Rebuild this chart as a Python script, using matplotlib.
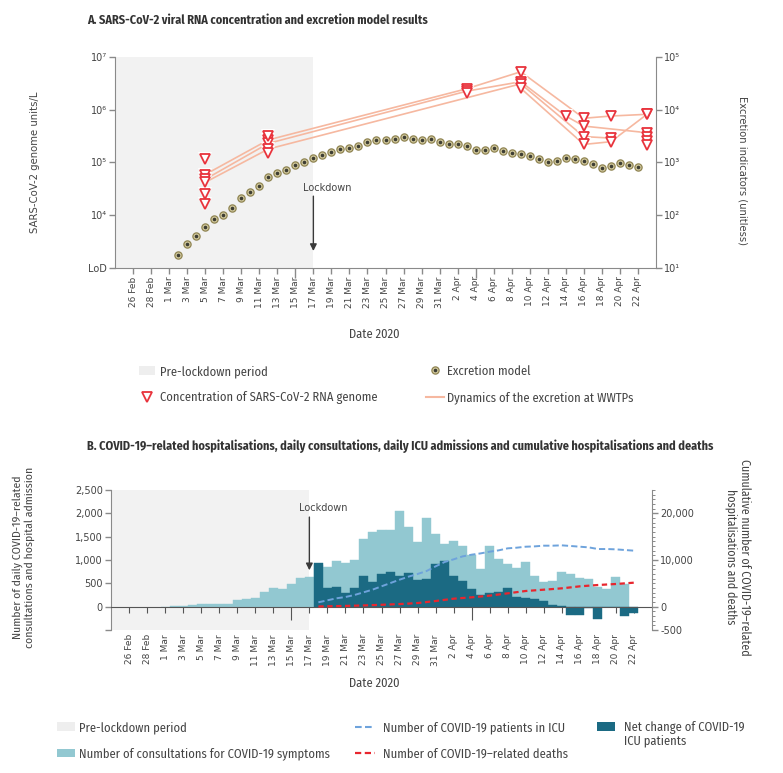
import os
import numpy as np
import pandas as pd
import matplotlib
matplotlib.use("Agg")
import matplotlib.pyplot as plt
import matplotlib.dates as mdates
from matplotlib.patches import Patch
from matplotlib.lines import Line2D
from matplotlib.ticker import FixedLocator, NullLocator, FixedFormatter
from matplotlib.font_manager import FontProperties

NARROW = ['Fira Sans Condensed', 'Liberation Sans', 'DejaVu Sans']
DEJAVU_FILE = os.path.join(matplotlib.get_data_path(), 'fonts', 'ttf', 'DejaVuSans.ttf')


def dv(size):
    if os.path.exists(DEJAVU_FILE):
        return FontProperties(fname=DEJAVU_FILE, size=size)
    return FontProperties(family='DejaVu Sans', size=size)


# ---------------- data ----------------
axis_start, axis_end = '2020-02-24', '2020-04-24'
lockdown_date = '2020-03-17'
tick_dates = pd.date_range('2020-02-26', '2020-04-22', freq='2D')

# Panel A: excretion model (right axis, unitless), 2 Mar - 22 Apr
model_dates = pd.date_range('2020-03-02', '2020-04-22')
excretion_model = [18, 29, 40, 61, 85, 100, 140, 210, 270, 360, 520, 640, 730, 880, 1030,
                   1230, 1390, 1580, 1780, 1880, 2100, 2480, 2700, 2700, 2830, 3000, 2750,
                   2630, 2750, 2480,
                   2280, 2280, 2020, 1730, 1730, 1860, 1680, 1490, 1450, 1350, 1160, 1000,
                   1050, 1200, 1160, 1050, 940, 800, 860, 960, 900, 830]

# Panel A: SARS-CoV-2 RNA concentration at WWTPs (genome units/L)
sample_dates = pd.to_datetime(['2020-03-05', '2020-03-12', '2020-04-03', '2020-04-09',
                               '2020-04-14', '2020-04-16', '2020-04-19', '2020-04-23'])
nan = np.nan
wwtp_1 = [5.9e4, 2.68e5, 2.5e6, 5.25e6, nan, 6.9e5, 7.6e5, 8.2e5]
wwtp_2 = [4.8e4, 2.3e5, 2.25e6, 3.4e6, 7.6e5, 4.9e5, nan, 3.67e5]
wwtp_3 = [4.2e4, 1.8e5, nan, 3.1e6, nan, 3.1e5, 2.9e5, nan]
wwtp_4 = [nan, nan, nan, 2.55e6, nan, 2.2e5, 2.48e5, 8.2e5]
other_dates = pd.to_datetime(['2020-03-05', '2020-03-05', '2020-03-05', '2020-03-12',
                              '2020-03-12', '2020-04-03', '2020-04-23', '2020-04-23',
                              '2020-04-23'])
other_conc = [1.15e5, 2.56e4, 1.61e4, 3.2e5, 1.49e5, 2.05e6, 3.0e5, 2.57e5, 2.14e5]

left_ticks_a = [1e3, 1e4, 1e5, 1e6, 1e7]
left_labels_a = ['LoD', '10\u2074', '10\u2075', '10\u2076', '10\u2077']
right_ticks_a = [1e1, 1e2, 1e3, 1e4, 1e5]
right_labels_a = ['10\u00b9', '10\u00b2', '10\u00b3', '10\u2074', '10\u2075']

# Panel B
consult_dates = pd.date_range('2020-03-01', '2020-04-21')
consultations = [2, 5, 15, 29, 50, 52, 55, 57, 136, 164, 193, 307, 407, 372, 493, 615, 636,
                 900, 850, 978, 943, 1007, 1443, 1600, 1635, 1640, 2043, 1707, 1378, 1906, 1564,
                 1335, 1400, 1307, 1100, 800, 1292, 1028, 921, 828, 950, 657, 536, 543, 735,
                 707, 607, 600, 421, 378, 636, 493]
icu_dates = pd.date_range('2020-03-18', '2020-04-22')
icu_net_change = [944, 400, 428, 300, 400, 650, 536, 693, 735, 650, 728, 564, 585, 907,
                  985, 657, 557, 386, 257, 286, 307, 393, 207, 179, 157, 129, 43, 21, -186,
                  -179, -29, -271, -10, -15, -200, -136]
icu_patients = [930, 1360, 1790, 2070, 2500, 3070, 3640, 4360, 5070, 5780, 6430, 7000, 7640,
                8640, 9570, 10140, 10780, 11140, 11420, 11780, 12070, 12500, 12640, 12850,
                12920, 13070, 13070, 13140, 13000, 12850, 12700, 12350, 12350, 12280, 12140,
                12000]
deaths = [40, 80, 120, 160, 210, 260, 330, 400, 480, 560, 660, 780, 990, 1210,
          1460, 1710, 1860, 2000, 2180, 2360, 2610, 2860, 3110, 3360, 3500, 3640, 3780, 3930,
          4140, 4360, 4500, 4640, 4750, 4860, 5000, 5140]

left_ticks_b = [-500, 0, 500, 1000, 1500, 2000, 2500]
left_labels_b = ['', '0', '500', '1,000', '1,500', '2,000', '2,500']
right_ticks_b = [-5000, 0, 10000, 20000]
right_labels_b = ['-500', '0', '10,000', '20,000']


def dn(d):
    t = pd.to_datetime(d)
    if isinstance(t, pd.Timestamp):
        return mdates.date2num(t.to_pydatetime())
    return mdates.date2num(np.asarray(t.to_pydatetime()))


# ---------------- style ----------------
SPINE = '#8a8a8a'
TXT = '#444444'
SHADE = '#f2f2f2'
RED = '#e8333c'
SALMON = '#f6b8a0'
LIGHT = '#92c8d1'
DARK = '#1b6a83'
BLUE = '#6ea3dc'
DRED = '#e8262e'

W, H = 783, 773
fig = plt.figure(figsize=(W / 100, H / 100), dpi=100)

def fx(px):
    return px / W

def fy(py):
    return 1 - py / H

tick_labels = [f'{d.day} {d:%b}' for d in tick_dates]
xlo, xhi = dn(axis_start), dn(axis_end)
x_lock = dn(lockdown_date)

# ================= Panel A =================
axA = fig.add_axes([fx(115), fy(268), fx(541), 211 / H])
axA.set_yscale('log')
axA.set_ylim(1e3, 1e7)
axA.set_xlim(xlo, xhi)
axA.axvspan(xlo, x_lock, color=SHADE, lw=0, zorder=0)

sx = dn(sample_dates)
for series in (wwtp_1, wwtp_2, wwtp_3, wwtp_4):
    v = np.array(series, dtype=float)
    m = ~np.isnan(v)
    axA.plot(sx[m], v[m], color=SALMON, lw=1.2, zorder=2, solid_capstyle='butt')
all_x = np.concatenate([sx] * 4 + [dn(other_dates)])
all_y = np.concatenate([np.array(s, dtype=float) for s in (wwtp_1, wwtp_2, wwtp_3, wwtp_4)]
                       + [np.array(other_conc)])
ok = ~np.isnan(all_y)
axA.plot(all_x[ok], all_y[ok], ls='none', marker='v', ms=10.5, mfc='white', mec='white',
         mew=0, zorder=2.5)
axA.plot(all_x[ok], all_y[ok], ls='none', marker='v', ms=7, mfc='white', mec=RED,
         mew=1.3, zorder=3)

axA2 = axA.twinx()
axA2.set_yscale('log')
axA2.set_ylim(1e1, 1e5)
mx = dn(model_dates)
axA2.plot(mx, excretion_model, ls='none', marker='o', ms=5.2, mfc='#d4cb9f', mec='#8f8452',
          mew=0.9, zorder=3)
axA2.plot(mx, excretion_model, ls='none', marker='o', ms=1.6, color='#3d3d33', zorder=4)

for ax in (axA, axA2):
    ax.spines['top'].set_visible(False)
    for s in ax.spines.values():
        s.set_color(SPINE)
axA2.spines['left'].set_visible(False)
axA2.spines['bottom'].set_visible(False)
axA.spines['right'].set_visible(False)

axA.set_yticks(left_ticks_a)
axA.set_yticklabels(left_labels_a)
axA.yaxis.set_minor_locator(NullLocator())
axA2.set_yticks(right_ticks_a)
axA2.set_yticklabels(right_labels_a)
axA2.yaxis.set_minor_locator(NullLocator())
axA.set_xticks(dn(tick_dates))
axA.set_xticklabels(tick_labels, rotation=90)
for ax in (axA, axA2):
    ax.tick_params(axis='both', direction='out', length=4, width=1, color=SPINE,
                   labelcolor=TXT, pad=2)
for lab in axA.get_yticklabels() + axA2.get_yticklabels():
    lab.set_fontproperties(dv(7))
for lab in axA.get_xticklabels():
    lab.set_fontproperties(dv(6.5))
for t, lab in zip(axA.xaxis.get_major_ticks(), tick_labels):
    if lab in ('15 Mar', '4 Apr'):
        t.tick1line.set_markersize(7)

axA.annotate('', xy=(x_lock, 2.1e3), xytext=(x_lock, 2.3e4),
             arrowprops=dict(arrowstyle='-|>', color='#3a3a3a', lw=1, mutation_scale=10,
                             shrinkA=0, shrinkB=0), zorder=5)
axA.text(x_lock + 1.55, 3.3e4, 'Lockdown', ha='center', va='center', fontproperties=dv(7),
         color=TXT)

fig.text(fx(87), fy(20), 'A. SARS-CoV-2 viral RNA concentration and excretion model results',
         family=NARROW, weight='bold', fontsize=8.8, color='#333333', va='center', ha='left')
fig.text(fx(35), fy(162), 'SARS-CoV-2 genome units/L', rotation=90, ha='center', va='center',
         fontproperties=dv(7.3), color=TXT)
fig.text(fx(743), fy(170), 'Excretion indicators (unitless)', rotation=270, ha='center',
         va='center', fontproperties=dv(7.2), color=TXT)
fig.text(fx(374), fy(334), 'Date 2020', ha='center', va='center', family=NARROW, fontsize=9,
         color=TXT)

legprop = FontProperties(family=NARROW, size=9)
hA1 = [Patch(fc='#eeeeee', ec='none'),
       Line2D([], [], ls='none', marker='v', ms=7, mfc='white', mec=RED, mew=1.3)]
fig.legend(hA1, ['Pre-lockdown period', 'Concentration of SARS-CoV-2 RNA genome'],
           loc='upper left', bbox_to_anchor=(fx(139), fy(365)), frameon=False,
           borderpad=0, borderaxespad=0, handlelength=1.3, handleheight=0.7,
           handletextpad=0.4, labelspacing=1.1, prop=legprop, labelcolor=TXT)
hA2 = [(Line2D([], [], ls='none', marker='o', ms=5.2, mfc='#d4cb9f', mec='#8f8452', mew=0.9),
        Line2D([], [], ls='none', marker='o', ms=1.6, color='#3d3d33')),
       Line2D([], [], color=SALMON, lw=1.5)]
fig.legend(hA2, ['Excretion model', 'Dynamics of the excretion at WWTPs'],
           loc='upper left', bbox_to_anchor=(fx(426), fy(365)), frameon=False,
           borderpad=0, borderaxespad=0, handlelength=1.45, handleheight=0.7,
           handletextpad=0.25, labelspacing=1.1, prop=legprop, labelcolor=TXT)

# ================= Panel B =================
axB = fig.add_axes([fx(111), fy(630), fx(541), 140 / H])
axB.set_xlim(xlo, xhi)
axB.set_ylim(-500, 2500)
axB.axvspan(xlo, x_lock, color=SHADE, lw=0, zorder=0)
axB.bar(dn(consult_dates), consultations, width=1.0, color=LIGHT, lw=0.3, ec=LIGHT, zorder=2)
axB.bar(dn(icu_dates), icu_net_change, width=1.0, color=DARK, lw=0.3, ec=DARK, zorder=3)

axB2 = axB.twinx()
axB2.set_ylim(-5000, 25000)
ix = dn(icu_dates)
axB2.plot(ix, icu_patients, color=BLUE, lw=1.4, dashes=(3.2, 1.6), zorder=4)
axB2.plot(ix, deaths, color=DRED, lw=1.6, dashes=(2.4, 1.6), zorder=4)

for ax in (axB, axB2):
    ax.spines['top'].set_visible(False)
    for s in ax.spines.values():
        s.set_color(SPINE)
axB.spines['right'].set_visible(False)
axB2.spines['left'].set_visible(False)
axB2.spines['bottom'].set_visible(False)
axB.spines['bottom'].set_position(('data', 0))
axB.spines['bottom'].set_color('#555555')
axB.spines['bottom'].set_zorder(5)

axB.set_yticks(left_ticks_b)
axB.set_yticklabels(left_labels_b)
axB2.set_yticks(right_ticks_b)
axB2.set_yticklabels(right_labels_b)
axB2.yaxis.set_minor_locator(FixedLocator(list(range(-5000, 25001, 1000))))
axB.set_xticks(dn(tick_dates))
axB.tick_params(axis='x', labelbottom=False, direction='out', length=4, color='#555555')
for ax in (axB, axB2):
    ax.tick_params(axis='y', direction='out', length=4, width=1, color=SPINE,
                   labelcolor=TXT, pad=2)
for lab in axB.get_yticklabels() + axB2.get_yticklabels():
    lab.set_fontproperties(dv(7))
axB2.tick_params(axis='y', which='minor', length=2, width=0.7, color=SPINE)
for t, lab in zip(axB.xaxis.get_major_ticks(), tick_labels):
    if lab in ('15 Mar', '4 Apr'):
        t.tick1line.set_markersize(9)

secB = axB.secondary_xaxis('bottom')
secB.set_xticks(dn(tick_dates))
secB.set_xticklabels(tick_labels, rotation=90)
secB.tick_params(axis='x', length=0, pad=3, labelcolor=TXT)
for lab in secB.get_xticklabels():
    lab.set_fontproperties(dv(6.5))
secB.spines['bottom'].set_visible(False)

axB.annotate('', xy=(x_lock, 780), xytext=(x_lock, 1920),
             arrowprops=dict(arrowstyle='-|>', color='#3a3a3a', lw=1, mutation_scale=10,
                             shrinkA=0, shrinkB=0), zorder=6)
axB.text(x_lock + 1.55, 2110, 'Lockdown', ha='center', va='center', fontproperties=dv(7),
         color=TXT)

fig.text(fx(87), fy(446),
         'B. COVID-19\u2013related hospitalisations, daily consultations, daily ICU admissions '
         'and cumulative hospitalisations and deaths',
         family=NARROW, weight='bold', fontsize=8.8, color='#333333', va='center', ha='left')
fig.text(fx(24), fy(557), 'Number of daily COVID-19\u2013related\nconsultations and hospital admission',
         rotation=90, ha='center', va='center', multialignment='center', family=NARROW,
         fontsize=8.4, color=TXT, linespacing=1.15)
fig.text(fx(738), fy(557), 'Cumulative number of COVID-19\u2013related\nhospitalisations and deaths',
         rotation=270, ha='center', va='center', multialignment='center', family=NARROW,
         fontsize=8.6, color=TXT, linespacing=1.15)
fig.text(fx(374), fy(683), 'Date 2020', ha='center', va='center', family=NARROW, fontsize=9,
         color=TXT)

hB1 = [Patch(fc='#eeeeee', ec='none'), Patch(fc=LIGHT, ec='none')]
fig.legend(hB1, ['Pre-lockdown period', 'Number of consultations for COVID-19 symptoms'],
           loc='upper left', bbox_to_anchor=(fx(57), fy(721)), frameon=False,
           borderpad=0, borderaxespad=0, handlelength=1.45, handleheight=0.7,
           handletextpad=0.3, labelspacing=1.1, prop=legprop, labelcolor=TXT)
hB2 = [Line2D([], [], color=BLUE, lw=1.5, dashes=(3.2, 1.6)),
       Line2D([], [], color=DRED, lw=1.6, dashes=(2.8, 1.6))]
fig.legend(hB2, ['Number of COVID-19 patients in ICU', 'Number of COVID-19\u2013related deaths'],
           loc='upper left', bbox_to_anchor=(fx(355), fy(721)), frameon=False,
           borderpad=0, borderaxespad=0, handlelength=1.6, handleheight=0.7,
           handletextpad=0.65, labelspacing=1.1, prop=legprop, labelcolor=TXT)
fig.legend([Patch(fc=DARK, ec='none')], ['Net change of COVID-19'],
           loc='upper left', bbox_to_anchor=(fx(597), fy(721)), frameon=False,
           borderpad=0, borderaxespad=0, handlelength=1.4, handleheight=0.7,
           handletextpad=0.8, prop=legprop, labelcolor=TXT)
fig.text(fx(624), fy(741), 'ICU patients', ha='left', va='center', family=NARROW, fontsize=9,
         color=TXT)

fig.savefig('out.png', dpi=100)
